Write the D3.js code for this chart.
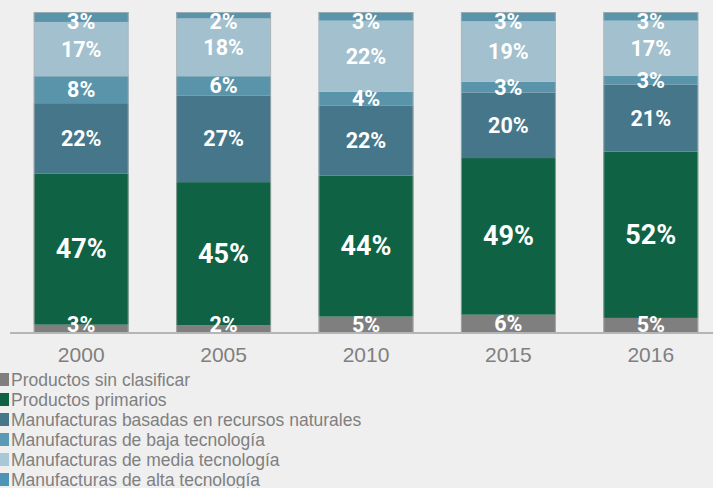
<!DOCTYPE html>
<html><head><meta charset="utf-8">
<script src="https://cdn.jsdelivr.net/npm/d3@7"></script>
<style>html,body{margin:0;padding:0;background:#efefef;}svg{display:block;}</style>
</head><body>
<svg id="c" width="713" height="488"></svg>
<script>
const years = ["2000", "2005", "2010", "2015", "2016"];
const seriesNames = [
  "Productos sin clasificar",
  "Productos primarios",
  "Manufacturas basadas en recursos naturales",
  "Manufacturas de baja tecnología",
  "Manufacturas de media tecnología",
  "Manufacturas de alta tecnología"
];
const sinClasificar = [2.6, 2.4, 5.1, 5.7, 4.7];
const primarios     = [47.0, 44.6, 43.9, 48.8, 51.8];
const recursos      = [22.0, 26.9, 21.9, 20.4, 20.9];
const baja          = [8.4, 6.1, 4.3, 3.4, 2.8];
const media         = [16.9, 18.0, 22.1, 18.8, 17.1];
const alta          = [3.1, 2.0, 2.7, 2.9, 2.7];
const seriesValues = [sinClasificar, primarios, recursos, baja, media, alta];
const colors = ["#7f7f7f", "#0f6244", "#46768a", "#5a94aa", "#a2c0cd", "#5a94aa"];
const legendColors = ["#7f7f7f", "#0f6244", "#46768a", "#5a9ab5", "#a8c8d8", "#4e94b4"];

const rows = years.map((y, i) => {
  const o = {year: y};
  seriesNames.forEach((s, j) => o[s] = seriesValues[j][i]);
  return o;
});
const stack = d3.stack().keys(seriesNames).offset(d3.stackOffsetExpand);
const stacked = stack(rows);

const svg = d3.select("#c");
const x = d3.scaleBand().domain(years).range([10, 722]).paddingInner(1/3).paddingOuter(1/6);
const y = d3.scaleLinear().domain([0, 1]).range([333, 12]);

const g = svg.append("g");
stacked.forEach((layer, j) => {
  g.selectAll(null).data(layer).enter().append("rect")
    .attr("x", d => x(d.data.year))
    .attr("width", x.bandwidth())
    .attr("y", d => y(d[1]))
    .attr("height", d => y(d[0]) - y(d[1]))
    .attr("fill", colors[j]);
});
// thin outline
g.selectAll(null).data(years).enter().append("rect")
  .attr("x", d => x(d) + 0.5).attr("width", x.bandwidth() - 1)
  .attr("y", y(1) + 0.5).attr("height", y(0) - y(1) - 1)
  .attr("fill", "none").attr("stroke", "#b4b4b4").attr("stroke-width", 1).attr("stroke-opacity", 0.7);

// labels
stacked.forEach((layer, j) => {
  g.selectAll(null).data(layer).enter().append("text")
    .attr("x", d => x(d.data.year) + x.bandwidth() / 2)
    .attr("y", d => {
      let c = (y(d[0]) + y(d[1])) / 2;
      return Math.max(y(1) + 9, Math.min(y(0) - 9, c));
    })
    .attr("text-anchor", "middle")
    .attr("dominant-baseline", "central")
    .attr("fill", "#ffffff")
    .attr("font-family", "Roboto, 'Open Sans', sans-serif")
    .attr("font-weight", "bold")
    .attr("font-size", d => (d.data[seriesNames[j]] >= 30 ? 27 : 21.5))
    .text(d => Math.round(d.data[seriesNames[j]]) + "%");
});

// axis
const ax = svg.append("g").attr("transform", "translate(0,333)")
  .call(d3.axisBottom(x).tickSize(0).tickPadding(14));
ax.select(".domain").attr("stroke", "#b5b5b5").attr("stroke-width", 2)
  .attr("d", "M10,0H713");
ax.selectAll("text").attr("fill", "#7f7f7f").attr("font-size", 21)
  .attr("font-family", "'Liberation Sans', Arial, sans-serif");

// legend
const lg = svg.append("g");
seriesNames.forEach((s, i) => {
  const cy = 380 + i * 20;
  lg.append("rect").attr("x", -4).attr("y", cy - 7).attr("width", 13).attr("height", 13)
    .attr("fill", legendColors[i]);
  lg.append("text").attr("x", 11).attr("y", cy).attr("dominant-baseline", "central")
    .attr("fill", "#808080").attr("font-size", 17.5)
    .attr("font-family", "'Liberation Sans', Arial, sans-serif").text(s);
});
</script>
</body></html>
